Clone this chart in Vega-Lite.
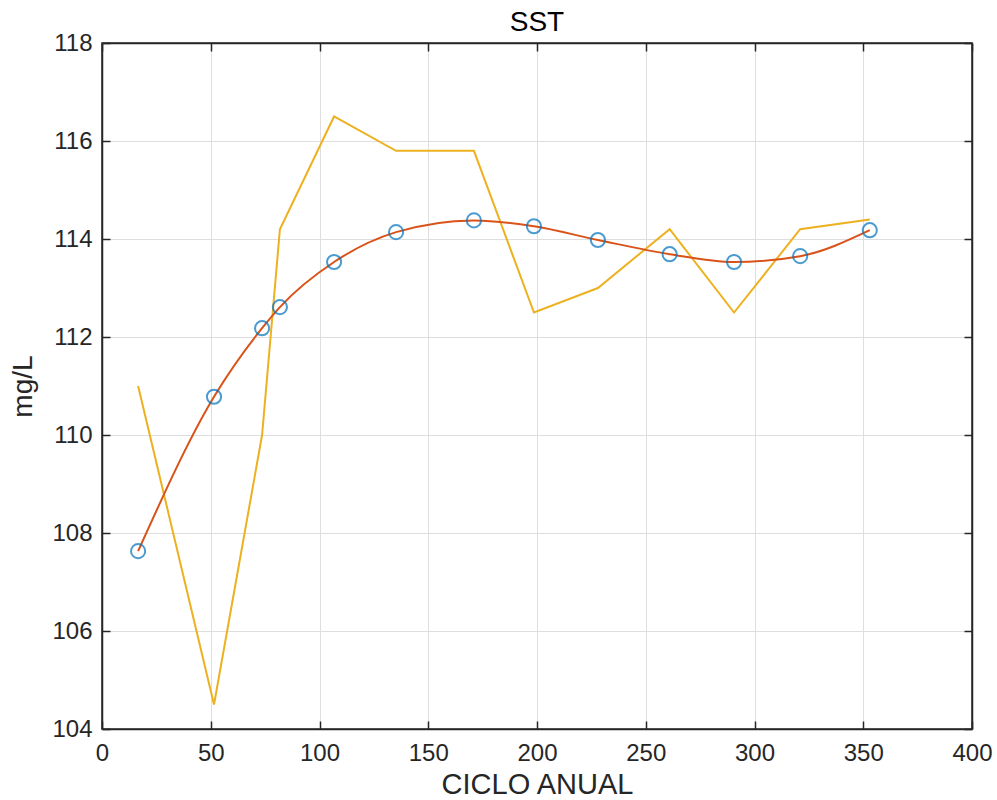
{
  "$schema": "https://vega.github.io/schema/vega-lite/v6.json",
  "autosize": "none",
  "padding": {"left": 102, "top": 43, "right": 25, "bottom": 71},
  "width": 870,
  "height": 686,
  "background": "white",
  "title": {"text": "SST", "fontSize": 28, "font": "Liberation Sans", "fontWeight": "normal", "color": "#000000", "offset": -6},
  "datasets": {
    "obs": [
      {"dia": 16.6, "sst": 111.0},
      {"dia": 51.5, "sst": 104.5},
      {"dia": 73.6, "sst": 110.0},
      {"dia": 81.8, "sst": 114.2},
      {"dia": 106.7, "sst": 116.5},
      {"dia": 135.2, "sst": 115.8},
      {"dia": 171.0, "sst": 115.8},
      {"dia": 198.6, "sst": 112.5},
      {"dia": 228.0, "sst": 113.0},
      {"dia": 261.0, "sst": 114.2},
      {"dia": 290.6, "sst": 112.5},
      {"dia": 321.0, "sst": 114.2},
      {"dia": 353.0, "sst": 114.4}
    ],
    "fit": [
      {"dia": 16.6, "sst": 107.63},
      {"dia": 51.5, "sst": 110.78},
      {"dia": 73.6, "sst": 112.18},
      {"dia": 81.8, "sst": 112.61},
      {"dia": 106.7, "sst": 113.53},
      {"dia": 135.2, "sst": 114.14},
      {"dia": 171.0, "sst": 114.38},
      {"dia": 198.6, "sst": 114.26},
      {"dia": 228.0, "sst": 113.98},
      {"dia": 261.0, "sst": 113.69},
      {"dia": 290.6, "sst": 113.53},
      {"dia": 321.0, "sst": 113.65},
      {"dia": 353.0, "sst": 114.18}
    ]
  },
  "config": {
    "view": {"stroke": "#262626", "strokeWidth": 1.5},
    "axis": {
      "labelFont": "Liberation Sans",
      "titleFont": "Liberation Sans",
      "labelFontSize": 24,
      "labelColor": "#262626",
      "titleColor": "#262626",
      "titleFontWeight": "normal",
      "labelFlush": false,
      "labelOverlap": false,
      "domainColor": "#262626",
      "domainWidth": 1.5,
      "tickColor": "#262626",
      "tickWidth": 1.5,
      "tickSize": -8,
      "gridColor": "#dedede",
      "gridWidth": 1
    }
  },
  "resolve": {"axis": {"x": "independent", "y": "independent"}},
  "layer": [
    {
      "data": {"name": "obs"},
      "mark": {"type": "line", "color": "#EDB120", "strokeWidth": 2},
      "encoding": {
        "x": {"field": "dia", "type": "quantitative",
              "scale": {"domain": [0, 400], "nice": false},
              "axis": {"orient": "bottom", "title": "CICLO ANUAL", "titleFontSize": 29, "titlePadding": 5, "labelFontSize": 24, "labelPadding": 20, "values": [0,50,100,150,200,250,300,350,400], "grid": true}},
        "y": {"field": "sst", "type": "quantitative",
              "scale": {"domain": [104, 118], "nice": false, "zero": false},
              "axis": {"orient": "left", "title": "mg/L", "titleFontSize": 28, "titlePadding": 14, "labelFontSize": 24, "labelPadding": 18, "values": [104,106,108,110,112,114,116,118], "grid": true}}
      }
    },
    {
      "data": {"name": "fit"},
      "mark": {"type": "line", "color": "#D95319", "strokeWidth": 2, "interpolate": "monotone"},
      "encoding": {
        "x": {"field": "dia", "type": "quantitative", "scale": {"domain": [0, 400], "nice": false},
              "axis": {"orient": "top", "title": null, "labels": false, "grid": false, "values": [0,50,100,150,200,250,300,350,400]}},
        "y": {"field": "sst", "type": "quantitative", "scale": {"domain": [104, 118], "nice": false, "zero": false},
              "axis": {"orient": "right", "title": null, "labels": false, "grid": false, "values": [104,106,108,110,112,114,116,118]}}
      }
    },
    {
      "data": {"name": "fit"},
      "mark": {"type": "point", "shape": "circle", "filled": false, "color": "#0072BD", "strokeWidth": 2, "size": 200},
      "encoding": {
        "x": {"field": "dia", "type": "quantitative", "scale": {"domain": [0, 400], "nice": false}, "axis": null},
        "y": {"field": "sst", "type": "quantitative", "scale": {"domain": [104, 118], "nice": false, "zero": false}, "axis": null}
      }
    }
  ]
}
